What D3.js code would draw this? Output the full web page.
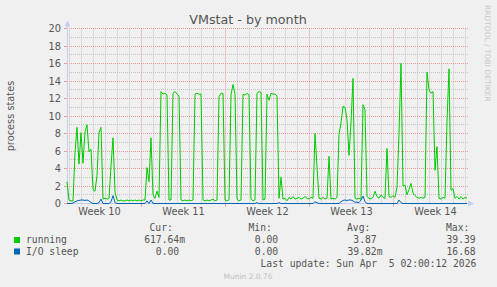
<!DOCTYPE html>
<html><head><meta charset="utf-8">
<script src="https://cdn.jsdelivr.net/npm/d3@7"></script>
<style>
html,body{margin:0;padding:0;background:#f0f0f0;}
svg{display:block;}
</style></head><body>
<svg id="chart" width="497" height="287"></svg>
<script>
// ---------------- data ----------------
const chartTitle = "VMstat - by month";
const yAxisLabel = "process states";
const sideText = "RRDTOOL / TOBI OETIKER";
const footerText = "Munin 2.0.76";
const lastUpdate = "Last update: Sun Apr  5 02:00:12 2026";

const startTime = new Date(Date.UTC(2026, 2, 2, 19, 0, 0));
const endTime = new Date(Date.UTC(2026, 3, 5, 3, 0, 0));
const sampleHours = 4;

const running = [
  2.5,0.4,0.3,0.3,5.8,8.7,4.5,8.1,4.6,8.2,
  9.0,5.9,6.2,1.6,1.4,3.2,8.1,8.7,0.5,0.6,
  0.5,0.6,4.3,7.5,1.3,0.4,0.3,0.4,0.3,0.3,
  0.4,0.3,0.4,0.3,0.4,0.3,0.4,0.3,0.4,0.4,
  4.1,2.5,7.5,1.0,0.6,1.4,0.7,12.8,12.5,12.6,
  12.4,0.4,0.4,12.6,12.8,12.5,12.3,0.4,0.3,0.4,
  0.3,0.4,0.3,0.4,12.5,12.6,12.5,12.5,0.4,0.3,
  0.4,0.3,0.4,0.5,0.3,0.4,12.2,12.6,12.6,0.4,
  0.3,0.4,12.4,13.6,12.5,0.5,0.3,0.4,12.5,12.4,
  12.6,12.4,0.5,0.3,0.4,12.6,12.8,12.7,0.4,0.5,
  12.5,11.8,12.6,12.5,12.5,12.3,0.6,3.0,0.5,0.6,
  0.3,0.7,0.5,0.8,0.5,0.6,0.7,0.5,0.6,0.8,
  0.6,0.5,0.7,0.6,8.0,4.2,0.6,0.5,0.7,0.5,
  0.6,5.4,0.5,0.6,0.5,0.7,7.9,9.2,11.1,11.0,
  9.6,5.5,9.2,14.3,0.6,0.5,0.6,0.5,11.3,10.7,
  0.8,0.6,0.5,0.7,1.4,0.8,0.6,1.0,0.7,0.6,
  6.3,0.8,0.7,0.9,0.7,1.9,8.0,16.0,2.0,2.1,
  1.0,1.6,2.3,1.2,0.9,0.7,0.6,0.7,0.6,0.7,
  15.0,13.0,12.6,12.8,3.8,6.5,0.6,0.5,0.7,0.6,
  9.4,15.4,1.5,1.7,0.6,0.8,0.5,0.8,0.5,0.7,
  0.6
];

const ioSleep = [
  0,0,0,0.05,0.2,0.3,0.35,0.4,0.4,0.35,
  0.4,0.3,0.1,0,0,0,0.1,0.5,0,0,
  0,0,0.2,0.9,0.1,0,0,0,0,0,
  0,0,0,0,0,0,0,0,0,0,
  0.3,0,0.4,0,0,0,0,0,0,0,
  0,0,0,0,0,0,0,0,0,0,
  0,0,0,0,0,0,0,0,0,0,
  0,0,0,0,0,0,0,0,0,0,
  0,0,0,0,0,0,0,0,0,0,
  0,0,0,0,0,0.1,0,0,0,0,
  0,0,0,0,0,0,0.1,0,0,0,
  0,0,0,0,0,0,0,0,0,0,
  0,0,0,0,0.2,0.1,0,0,0,0,
  0,0,0,0,0,0,0,0.2,0.35,0.4,
  0.35,0.4,0.4,0.3,0.15,0.15,0.1,0.4,0.85,0.2,
  0,0,0,0,0,0,0,0,0,0,
  0,0,0,0,0,0,0.4,0.1,0,0,
  0,0,0,0,0,0,0,0,0,0,
  0,0,0,0,0,0,0,0,0,0,
  0,0,0,0,0,0,0,0,0,0,
  0
];

const yTicks = [0, 2, 4, 6, 8, 10, 12, 14, 16, 18, 20];
const weekLabels = ["Week 10", "Week 11", "Week 12", "Week 13", "Week 14"];
const weekStarts = ["2026-03-02", "2026-03-09", "2026-03-16", "2026-03-23", "2026-03-30"];

const legendHeaders = ["Cur:", "Min:", "Avg:", "Max:"];
const legendNames = ["running", "I/O sleep"];
const legendColors = ["#00cc00", "#0066b3"];
const curValues = ["617.64m", "0.00"];
const minValues = ["0.00", "0.00"];
const avgValues = ["3.87", "39.82m"];
const maxValues = ["39.39", "16.68"];

// ---------------- drawing ----------------
const svg = d3.select("#chart");
const W = 497, H = 287;
const plot = {left: 67, right: 467, top: 28.5, bottom: 203.5};
const textColor = "#555";
const axisColor = "#c6cdf2";
const sans = "'DejaVu Sans', Verdana, sans-serif";
const mono = "'DejaVu Sans Mono', monospace";

svg.append("rect").attr("width", W).attr("height", H).attr("fill", "#f0f0f0");

const x = d3.scaleUtc().domain([startTime, endTime]).range([plot.left, plot.right]);
const y = d3.scaleLinear().domain([0, 20]).range([plot.bottom, plot.top]);
const crisp = v => Math.floor(v) + 0.5;

const grid = svg.append("g");
// horizontal minor grid
const minorY = d3.range(0, 21).filter(v => v % 2 !== 0);
grid.selectAll("line.hmin").data(minorY).join("line")
  .attr("x1", plot.left).attr("x2", plot.right + 1)
  .attr("y1", d => crisp(y(d))).attr("y2", d => crisp(y(d)))
  .attr("stroke", "#c4c4c4").attr("stroke-dasharray", "1,1");
// vertical minor grid (days)
const days = d3.utcDay.range(startTime, endTime);
const mondays = d3.utcMonday.range(startTime, endTime);
const mondaySet = new Set(mondays.map(d => +d));
grid.selectAll("line.vmin").data(days.filter(d => !mondaySet.has(+d))).join("line")
  .attr("x1", d => crisp(x(d))).attr("x2", d => crisp(x(d)))
  .attr("y1", plot.top).attr("y2", plot.bottom)
  .attr("stroke", "#c4c4c4").attr("stroke-dasharray", "1,1");
// major grid
grid.selectAll("line.hmaj").data(yTicks.filter(v => v > 0)).join("line")
  .attr("x1", plot.left).attr("x2", plot.right + 1)
  .attr("y1", d => crisp(y(d))).attr("y2", d => crisp(y(d)))
  .attr("stroke", "#e69a9a").attr("stroke-dasharray", "1,1");
grid.selectAll("line.vmaj").data(mondays).join("line")
  .attr("x1", d => crisp(x(d))).attr("x2", d => crisp(x(d)))
  .attr("y1", plot.top).attr("y2", plot.bottom)
  .attr("stroke", "#e69a9a").attr("stroke-dasharray", "1,1");

// ticks on axes
grid.selectAll("line.yt").data(yTicks).join("line")
  .attr("x1", plot.left - 3).attr("x2", plot.left)
  .attr("y1", d => crisp(y(d))).attr("y2", d => crisp(y(d)))
  .attr("stroke", "#e69a9a");
grid.selectAll("line.xt").data(mondays).join("line")
  .attr("x1", d => crisp(x(d))).attr("x2", d => crisp(x(d)))
  .attr("y1", plot.bottom).attr("y2", plot.bottom + 3)
  .attr("stroke", "#e69a9a");

// axes
const axes = svg.append("g");
axes.append("line").attr("x1", plot.left + 0.5).attr("x2", plot.left + 0.5)
  .attr("y1", plot.bottom).attr("y2", 23).attr("stroke", axisColor);
axes.append("path").attr("d", `M${plot.left - 2.5},26.5 L${plot.left + 0.5},20.5 L${plot.left + 3.5},26.5 Z`)
  .attr("fill", axisColor);
axes.append("line").attr("x1", plot.left).attr("x2", plot.right + 3)
  .attr("y1", plot.bottom).attr("y2", plot.bottom).attr("stroke", axisColor);
axes.append("path").attr("d", `M${plot.right + 1},${plot.bottom - 3} L${plot.right + 7},${plot.bottom} L${plot.right + 1},${plot.bottom + 3} Z`)
  .attr("fill", axisColor);

// y tick labels
svg.append("g").selectAll("text").data(yTicks).join("text")
  .attr("x", 61).attr("y", d => y(d) + 3.5)
  .attr("text-anchor", "end").attr("font-family", sans).attr("font-size", 9.8)
  .attr("fill", textColor).text(d => d);

// week labels
const DAY = 86400000;
svg.append("g").selectAll("text").data(weekLabels).join("text")
  .attr("x", (d, i) => x(new Date(Date.parse(weekStarts[i] + "T00:00:00Z") + 3.5 * DAY)))
  .attr("y", 215).attr("text-anchor", "middle")
  .attr("font-family", sans).attr("font-size", 9.8).attr("fill", textColor).text(d => d);

// series
const t = i => new Date(+startTime + i * sampleHours * 3600000);
const line = d3.line().x((d, i) => x(t(i))).y(d => y(d));
svg.append("path").datum(running).attr("d", line)
  .attr("fill", "none").attr("stroke", legendColors[0]).attr("stroke-width", 1);
svg.append("path").datum(ioSleep).attr("d", line)
  .attr("fill", "none").attr("stroke", legendColors[1]).attr("stroke-width", 1);

// title
svg.append("text").attr("x", 248).attr("y", 24).attr("text-anchor", "middle")
  .attr("font-family", sans).attr("font-size", 12.7).attr("fill", textColor).text(chartTitle);

// y axis label
svg.append("text").attr("transform", `translate(13.5,${(plot.top + plot.bottom) / 2}) rotate(-90)`)
  .attr("text-anchor", "middle").attr("font-family", sans).attr("font-size", 9.8)
  .attr("fill", textColor).text(yAxisLabel);

// side text
svg.append("text").attr("transform", "translate(485,5) rotate(90)")
  .attr("font-family", sans).attr("font-size", 7.5).attr("fill", "#c8c8c8").text(sideText);

// legend
const leg = svg.append("g").attr("font-family", mono).attr("font-size", 9.7).attr("fill", textColor);
const headerX = [149.5, 248.5, 347, 446];
leg.selectAll("text.h").data(legendHeaders).join("text")
  .attr("x", (d, i) => headerX[i]).attr("y", 231).text(d => d);
const rowY = [243, 254.5];
legendNames.forEach((name, r) => {
  leg.append("rect").attr("x", 14).attr("y", rowY[r] - 6).attr("width", 6).attr("height", 6)
    .attr("fill", legendColors[r]);
  leg.append("text").attr("x", 26).attr("y", rowY[r]).text(name);
  const cols = [curValues[r], minValues[r], avgValues[r], maxValues[r]];
  const rightEdge = [185, 284, 382.5, 481.5];
  cols.forEach((v, c) => {
    const padded = /[a-zA-Z]$/.test(v) ? v : v + " ";
    leg.append("text").attr("x", rightEdge[c]).attr("y", rowY[r])
      .attr("text-anchor", "end").attr("xml:space", "preserve")
      .style("white-space", "pre").text(padded);
  });
});
leg.append("text").attr("x", 260.5).attr("y", 266.5).style("white-space", "pre").text(lastUpdate);

svg.append("text").attr("x", 248).attr("y", 278.5).attr("text-anchor", "middle")
  .attr("font-family", sans).attr("font-size", 7.5).attr("fill", "#c0c0c0").text(footerText);
</script>
</body></html>
